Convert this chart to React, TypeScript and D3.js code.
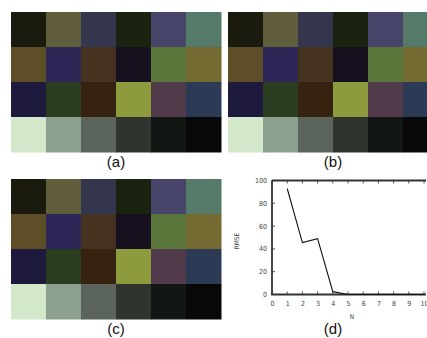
import React from "react";
import * as d3 from "d3";

const gridColors: string[][] = [
  ["#1b1a0e", "#5f5d3c", "#33364d", "#1a2310", "#47466a", "#557a69"],
  ["#5d4e27", "#2e2656", "#45321f", "#17111f", "#5a763b", "#746b33"],
  ["#1e1a3e", "#2a3d20", "#35220f", "#8e9a3e", "#513a4a", "#2d3a56"],
  ["#d3e8cb", "#8ba08e", "#5b655b", "#2f342e", "#121713", "#080808"],
];
const panelLabels = ["(a)", "(b)", "(c)", "(d)"];
const nValues = [1, 2, 3, 4, 5, 6, 7, 8, 9, 10];
const rmseValues = [93, 45.5, 49, 2.5, 0, 0, 0, 0, 0, 0];
const xTicks = [0, 1, 2, 3, 4, 5, 6, 7, 8, 9, 10];
const yTicks = [0, 20, 40, 60, 80, 100];

const CELL = 35;

function Grid({ x0, y0 }: { x0: number; y0: number }) {
  const cols = d3.range(6);
  const rows = d3.range(4);
  const xs = d3.scaleBand<number>().domain(cols).range([x0, x0 + CELL * 6]);
  const ys = d3.scaleBand<number>().domain(rows).range([y0, y0 + CELL * 4]);
  return (
    <g>
      {rows.map((r) =>
        cols.map((c) => (
          <rect
            key={`${r}-${c}`}
            x={xs(c)}
            y={ys(r)}
            width={xs.bandwidth() + 0.5}
            height={ys.bandwidth() + 0.5}
            fill={gridColors[r][c]}
          />
        ))
      )}
    </g>
  );
}

export default function App() {
  const x = d3.scaleLinear().domain([0, 10]).range([272, 424]);
  const y = d3.scaleLinear().domain([0, 100]).range([294.5, 180.5]);
  const line = d3
    .line<number>()
    .x((_, i) => x(nValues[i]))
    .y((d) => y(d));
  const font = "'Liberation Sans', Arial, sans-serif";
  const narrow = "'Liberation Sans Narrow', 'DejaVu Sans Condensed', 'Liberation Sans', sans-serif";
  return (
    <svg
      width={427}
      height={338}
      style={{ position: "absolute", left: 0, top: 0, background: "#fff" }}
    >
      <Grid x0={11} y0={12} />
      <Grid x0={228} y0={12} />
      <Grid x0={11} y0={179} />
      <text x={116} y={167} fontSize={15} fontFamily={font} textAnchor="middle" fill="#111">
        {panelLabels[0]}
      </text>
      <text x={333} y={167} fontSize={15} fontFamily={font} textAnchor="middle" fill="#111">
        {panelLabels[1]}
      </text>
      <text x={116} y={334} fontSize={15} fontFamily={font} textAnchor="middle" fill="#111">
        {panelLabels[2]}
      </text>
      <text x={333} y={334} fontSize={15} fontFamily={font} textAnchor="middle" fill="#111">
        {panelLabels[3]}
      </text>

      {/* chart d */}
      <g>
        {xTicks.map((t) => (
          <g key={`xt${t}`}>
            <line x1={x(t)} x2={x(t)} y1={y(0)} y2={y(0) - 3} stroke="#555" strokeWidth={1} />
            <line x1={x(t)} x2={x(t)} y1={y(100)} y2={y(100) + 3} stroke="#555" strokeWidth={1} />
            <text
              x={x(t) + 0.5}
              y={y(0) + 11}
              fontSize={7}
              fontFamily={narrow}
              textAnchor="middle"
              fill="#444"
            >
              {t}
            </text>
          </g>
        ))}
        {yTicks.map((t) => (
          <g key={`yt${t}`}>
            <line x1={x(0)} x2={x(0) + 3} y1={y(t)} y2={y(t)} stroke="#555" strokeWidth={1} />
            <text
              x={x(0) - 5}
              y={y(t) + 2.5}
              fontSize={7}
              fontFamily={narrow}
              textAnchor="end"
              fill="#444"
            >
              {t}
            </text>
          </g>
        ))}
        <path
          d={`M${x(0)},${y(100)}H${x(10) + 2}M${x(0)},${y(100)}V${y(0)}H${x(10) + 2}`}
          fill="none"
          stroke="#333"
          strokeWidth={1.8}
        />
        <path d={line(rmseValues) || ""} fill="none" stroke="#111" strokeWidth={1.1} />
        <text x={352} y={319} fontSize={6.5} fontFamily={narrow} textAnchor="middle" fill="#444">
          N
        </text>
        <text
          transform={`translate(239,241) rotate(-90)`}
          fontSize={6.5}
          fontFamily={narrow}
          textAnchor="middle"
          fill="#444"
        >
          RMSE
        </text>
      </g>
    </svg>
  );
}
